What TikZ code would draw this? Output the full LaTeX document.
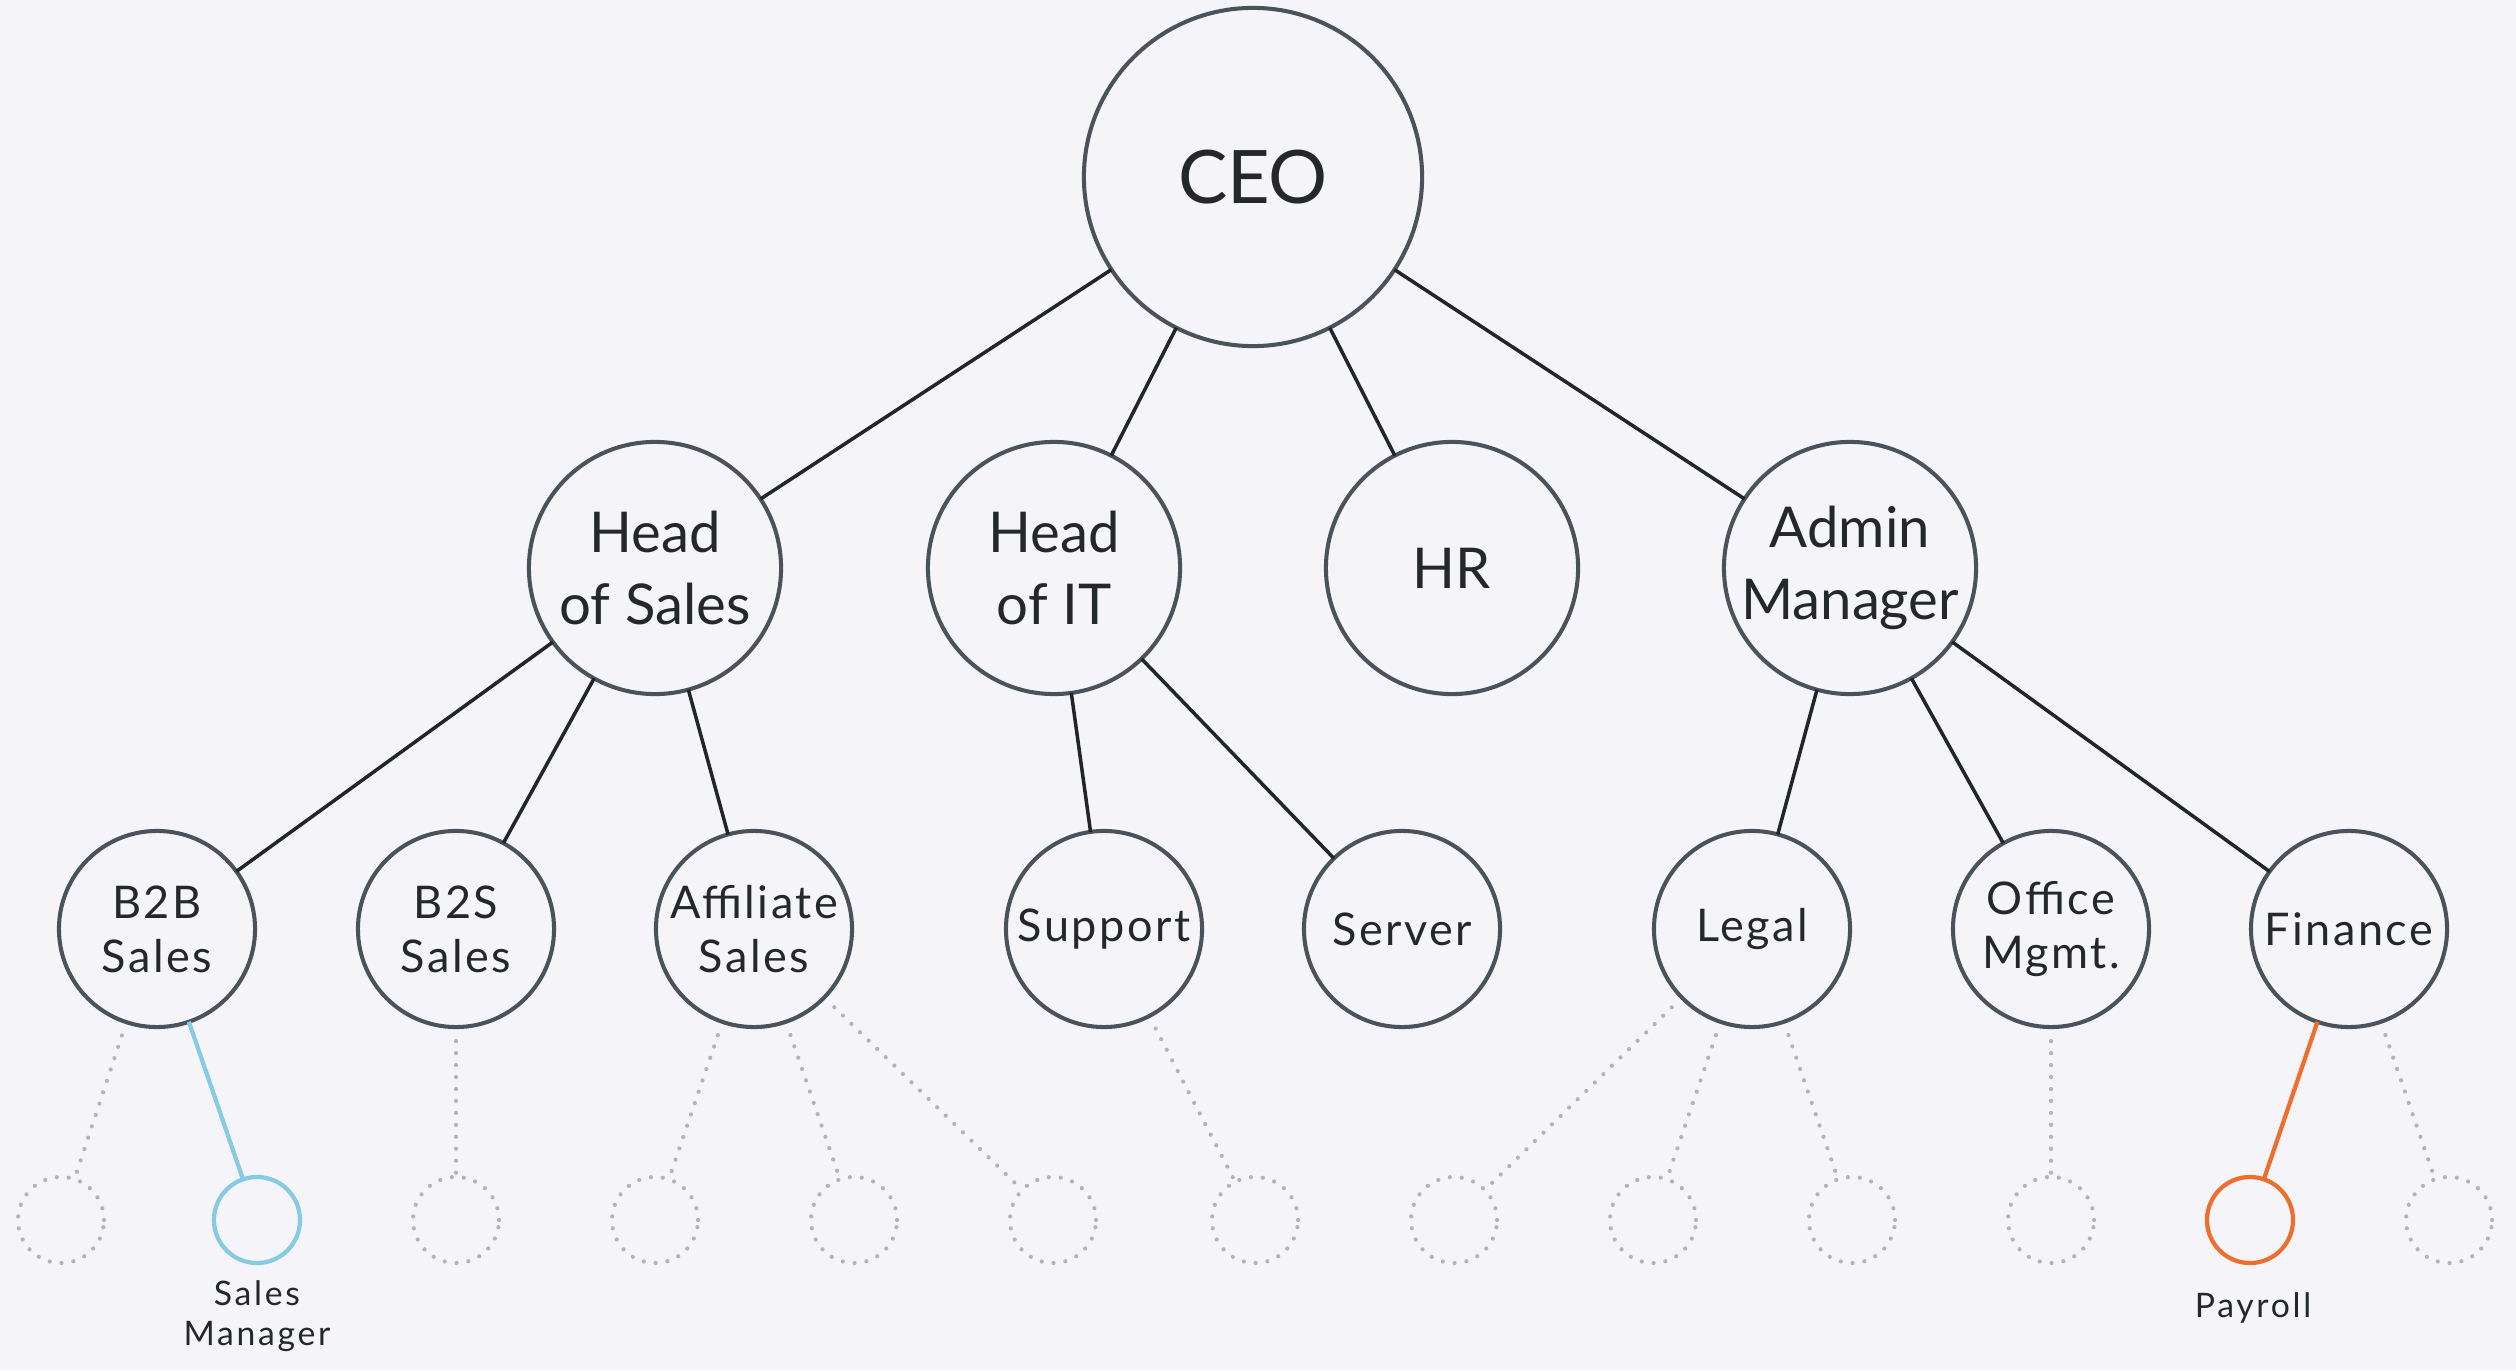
\documentclass[tikz,border=0pt]{standalone}
\usepackage{fontspec}
\setmainfont{Lato}
\definecolor{bg}{HTML}{F5F5F9}
\definecolor{ring}{HTML}{4A525A}
\definecolor{ink}{HTML}{25282B}
\definecolor{wire}{HTML}{232629}
\definecolor{sky}{HTML}{87CBE3}
\definecolor{tang}{HTML}{EE6E2E}
\definecolor{dotg}{HTML}{B3B3B8}
\begin{document}
\begin{tikzpicture}[x=0.01cm,y=-0.01cm,
  every node/.style={inner sep=0pt, outer sep=0pt, text=ink},
  ceobox/.style={circle, draw=ring, line width=1.15pt, minimum size=3.38cm,
    font=\fontsize{21}{25}\selectfont},
  headbox/.style={circle, draw=ring, line width=1.15pt, minimum size=2.52cm, align=center,
    font=\fontsize{16}{20.5}\selectfont},
  unitbox/.style={circle, draw=ring, line width=1.15pt, minimum size=1.96cm, align=center,
    font=\fontsize{12.8}{15.4}\selectfont\addfontfeatures{LetterSpace=5.5}},
  ghost/.style={circle, draw=dotg, line width=1.2pt, line cap=round,
    dash pattern=on 0pt off 3.4pt, minimum size=0.86cm},
  bluebox/.style={circle, draw=sky, line width=1.2pt, minimum size=0.86cm},
  orangebox/.style={circle, draw=tang, line width=1.2pt, minimum size=0.86cm},
  wireline/.style={draw=wire, line width=1pt},
  dotline/.style={draw=dotg, line width=1.2pt, line cap=round, dash pattern=on 0pt off 3.4pt},
  blueline/.style={draw=sky, line width=1.2pt},
  orangeline/.style={draw=tang, line width=1.2pt},
  caption/.style={align=center, anchor=north,
    font=\fontsize{9.6}{11.4}\selectfont\addfontfeatures{LetterSpace=8}}
]
\fill[bg] (0,0) rectangle (2516,1370);
\useasboundingbox (0,0) rectangle (2516,1370);

% top
\node[ceobox] (ceo) at (1253,177) {CEO};
% level 2
\node[headbox] (hos) at (655,568) {Head\\of Sales};
\node[headbox] (hoit) at (1054,568) {Head\\of IT};
\node[headbox] (hr) at (1452,568) {HR};
\node[headbox] (adm) at (1850,568) {Admin\\Manager};
% level 3
\node[unitbox] (b2b) at (157,929) {B2B\\Sales};
\node[unitbox] (b2s) at (456,929) {B2S\\Sales};
\node[unitbox] (aff) at (754,929) {Affiliate\\Sales};
\node[unitbox] (sup) at (1104,929) {Support};
\node[unitbox] (srv) at (1402,929) {Server};
\node[unitbox] (leg) at (1752,929) {Legal};
\node[unitbox] (off) at (2051,929) {Office\\Mgmt.};
\node[unitbox] (fin) at (2349,929) {Finance};
% level 4
\node[ghost] (c1) at (61,1220) {};
\node[bluebox] (c2) at (257,1220) {};
\node[ghost] (c3) at (456,1220) {};
\node[ghost] (c4) at (655,1220) {};
\node[ghost] (c5) at (854,1220) {};
\node[ghost] (c6) at (1053,1220) {};
\node[ghost] (c7) at (1255,1220) {};
\node[ghost] (c8) at (1454,1220) {};
\node[ghost] (c9) at (1653,1220) {};
\node[ghost] (c10) at (1852,1220) {};
\node[ghost] (c11) at (2051,1220) {};
\node[orangebox] (c12) at (2250,1220) {};
\node[ghost] (c13) at (2449,1220) {};
% captions
\node[caption] (lsm) at (257,1281) {Sales\\Manager};
\node[caption] (lpay) at (2253,1293) {Payroll};

% connectors
\foreach \a/\b in {ceo/hos, ceo/hoit, ceo/hr, ceo/adm,
                   hos/b2b, hos/b2s, hos/aff,
                   hoit/sup, hoit/srv,
                   adm/leg, adm/off, adm/fin}
  \draw[wireline] (\a) -- (\b);
\foreach \a/\b in {b2b/c1, b2s/c3, aff/c4, aff/c5, aff/c6, sup/c7,
                   leg/c8, leg/c9, leg/c10, off/c11, fin/c13}
  \draw[dotline, shorten <=4pt] (\a) -- (\b);
\draw[blueline] (b2b) -- (c2);
\draw[orangeline] (fin) -- (c12);
\end{tikzpicture}
\end{document}
